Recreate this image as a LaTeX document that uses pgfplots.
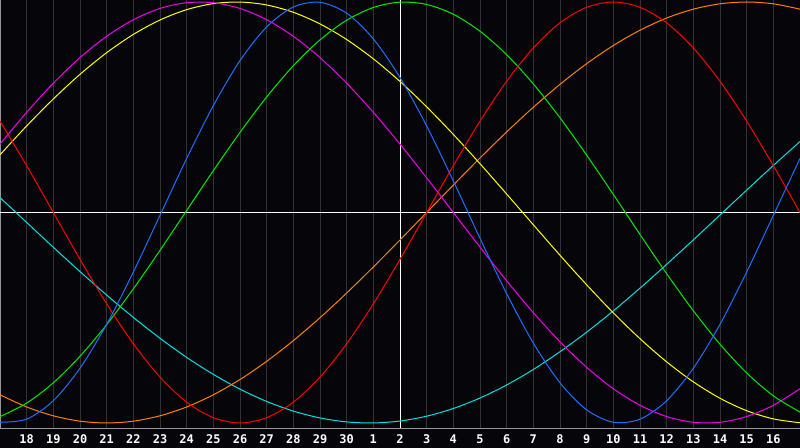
\documentclass[border=0pt]{standalone}
\usepackage{fontspec}
\usepackage{pgfplots}
\pgfplotsset{compat=1.18}
\newfontfamily\tickfont{DejaVu Sans Mono}
\definecolor{bgc}{RGB}{6,6,10}
\definecolor{gridc}{RGB}{50,50,52}
\definecolor{framec}{RGB}{150,150,150}
\definecolor{cred}{RGB}{255,0,0}
\definecolor{cblue}{RGB}{30,110,255}
\definecolor{cgreen}{RGB}{0,235,0}
\definecolor{ccyan}{RGB}{0,225,225}
\definecolor{cmag}{RGB}{240,0,240}
\definecolor{cyel}{RGB}{255,255,0}
\definecolor{corange}{RGB}{255,128,0}
\begin{document}
\begin{tikzpicture}
\useasboundingbox (0,-20bp) rectangle (800bp,428bp);
\fill[bgc] (0,-20bp) rectangle (800bp,428bp);
\begin{axis}[
  at={(0,0)}, anchor=south west,
  scale only axis, width=800bp, height=428bp,
  xmin=0, xmax=30, ymin=-1.0238, ymax=1.0095,
  ytick=\empty,
  xtick={1,...,29},
  xticklabels={18,19,20,21,22,23,24,25,26,27,28,29,30,1,2,3,4,5,6,7,8,9,10,11,12,13,14,15,16},
  major tick length=0pt,
  xmajorgrids,
  grid style={color=gridc, line width=1bp},
  axis line style={color=framec, line width=1bp},
  xticklabel style={font=\tickfont\bfseries\fontsize{12}{14}\selectfont, text=white, anchor=base, yshift=-15bp},
  /pgf/number format/assume math mode=true,
  every axis plot/.append style={line width=1bp, smooth, no marks},
]
\draw[white, line width=1bp] (axis cs:0,0) -- (axis cs:30,0);
\draw[white, line width=1bp] (axis cs:15,-1.0238) -- (axis cs:15,1.0095);
% cyan (53)
\addplot[ccyan] coordinates {(0,0.0711)(1,-0.0474)(2,-0.1652)(3,-0.2807)(4,-0.3922)(5,-0.4983)(6,-0.5974)(7,-0.6883)(8,-0.7690)(9,-0.8392)(10,-0.8976)(11,-0.9435)(12,-0.9760)(13,-0.9949)(14,-0.9998)(15,-0.9907)(16,-0.9677)(17,-0.9311)(18,-0.8814)(19,-0.8194)(20,-0.7458)(21,-0.6613)(22,-0.5685)(23,-0.4672)(24,-0.3594)(25,-0.2463)(26,-0.1300)(27,-0.0119)(28,0.1064)(29,0.2234)(30,0.3371)};
% orange (48)
\addplot[corange] coordinates {(0,-0.8660)(1,-0.9239)(2,-0.9659)(3,-0.9914)(4,-1)(5,-0.9914)(6,-0.9659)(7,-0.9239)(8,-0.8660)(9,-0.7934)(10,-0.7071)(11,-0.6088)(12,-0.5)(13,-0.3827)(14,-0.2588)(15,-0.1305)(16,0)(17,0.1305)(18,0.2588)(19,0.3827)(20,0.5)(21,0.6088)(22,0.7071)(23,0.7934)(24,0.8660)(25,0.9239)(26,0.9659)(27,0.9914)(28,1)(29,0.9914)(30,0.9659)};
% yellow (43)
\addplot[cyel] coordinates {(0,0.2741)(1,0.4113)(2,0.5394)(3,0.6563)(4,0.7593)(5,0.8460)(6,0.9145)(7,0.9637)(8,0.9923)(9,0.9998)(10,0.9859)(11,0.9511)(12,0.8959)(13,0.8217)(14,0.7300)(15,0.6226)(16,0.5018)(17,0.3709)(18,0.2318)(19,0.0875)(20,-0.0584)(21,-0.2031)(22,-0.3435)(23,-0.4768)(24,-0.5995)(25,-0.7097)(26,-0.8046)(27,-0.8825)(28,-0.9416)(29,-0.9806)(30,-0.9987)};
% magenta (38)
\addplot[cmag] coordinates {(0,0.3247)(1,0.4759)(2,0.6142)(3,0.7357)(4,0.8372)(5,0.9158)(6,0.9694)(7,0.9966)(8,0.9966)(9,0.9694)(10,0.9158)(11,0.8372)(12,0.7357)(13,0.6142)(14,0.4759)(15,0.3247)(16,0.1646)(17,0)(18,-0.1646)(19,-0.3247)(20,-0.4759)(21,-0.6142)(22,-0.7357)(23,-0.8372)(24,-0.9158)(25,-0.9694)(26,-0.9966)(27,-0.9966)(28,-0.9694)(29,-0.9158)(30,-0.8372)};
% green (33)
\addplot[cgreen] coordinates {(0,-0.9695)(1,-0.9056)(2,-0.8090)(3,-0.6830)(4,-0.5326)(5,-0.3628)(6,-0.1798)(7,0.0096)(8,0.1986)(9,0.3804)(10,0.5487)(11,0.6971)(12,0.8200)(13,0.9135)(14,0.9740)(15,0.9993)(16,0.9884)(17,0.9418)(18,0.8612)(19,0.7495)(20,0.6108)(21,0.4498)(22,0.2725)(23,0.0856)(24,-0.1045)(25,-0.2909)(26,-0.4667)(27,-0.6256)(28,-0.7621)(29,-0.8708)(30,-0.9481)};
% red (28)
\addplot[cred] coordinates {(0,0.4339)(1,0.2225)(2,0)(3,-0.2225)(4,-0.4339)(5,-0.6235)(6,-0.7818)(7,-0.9010)(8,-0.9749)(9,-1)(10,-0.9749)(11,-0.9010)(12,-0.7818)(13,-0.6235)(14,-0.4339)(15,-0.2225)(16,0)(17,0.2225)(18,0.4339)(19,0.6235)(20,0.7818)(21,0.9010)(22,0.9749)(23,1)(24,0.9749)(25,0.9010)(26,0.7818)(27,0.6235)(28,0.4339)(29,0.2225)(30,0)};
% blue (23)
\addplot[cblue] coordinates {(0,-0.9966)(1,-0.9818)(2,-0.8941)(3,-0.7399)(4,-0.5313)(5,-0.2829)(6,-0.0136)(7,0.2566)(8,0.5076)(9,0.7215)(10,0.8815)(11,0.9762)(12,0.9985)(13,0.9468)(14,0.8248)(15,0.6413)(16,0.4110)(17,0.1497)(18,-0.1226)(19,-0.3859)(20,-0.6204)(21,-0.8090)(22,-0.9376)(23,-0.9966)(24,-0.9818)(25,-0.8941)(26,-0.7399)(27,-0.5313)(28,-0.2829)(29,-0.0136)(30,0.2566)};
\end{axis}
\end{tikzpicture}
\end{document}
